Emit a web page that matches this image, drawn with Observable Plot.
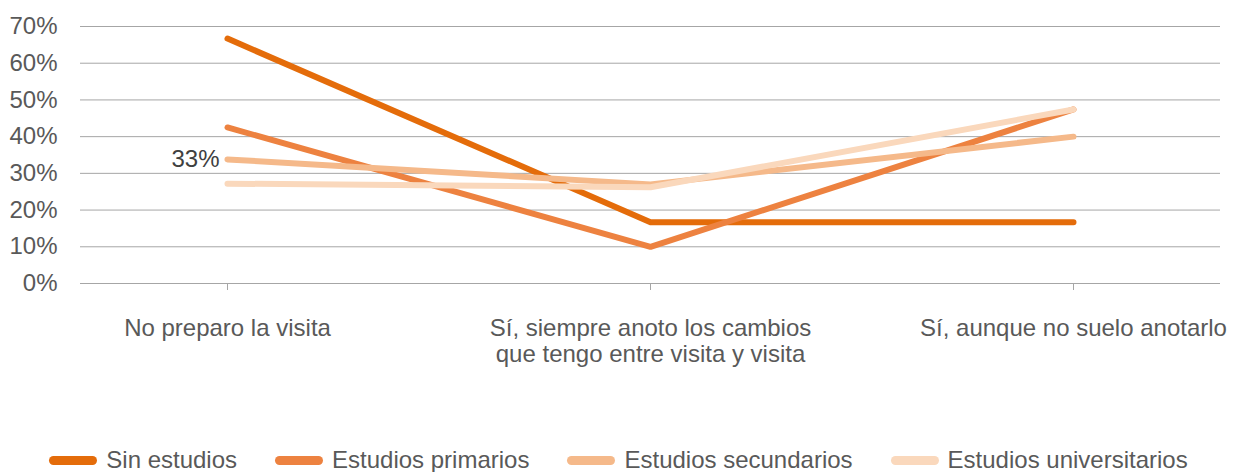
<!DOCTYPE html>
<html>
<head>
<meta charset="utf-8">
<script src="https://cdn.jsdelivr.net/npm/d3@7"></script>
<script src="https://cdn.jsdelivr.net/npm/@observablehq/plot@0.6"></script>
<style>
  html, body { margin: 0; padding: 0; background: #fff; }
  body { width: 1237px; height: 472px; overflow: hidden; font-family: "Liberation Sans", Arial, sans-serif; }
  #chart svg { display: block; }
  #legend { display: flex; justify-content: center; align-items: center; gap: 38px; margin-top: 66px; font-size: 24px; line-height: 28px; color: #595959; }
  .item { display: flex; align-items: center; gap: 9px; }
  .sw { width: 48px; height: 9px; border-radius: 4.5px; display: inline-block; }
</style>
</head>
<body>
<div id="chart"></div>
<div id="legend"></div>
<script>
const categories = ["No preparo la visita", "Sí, siempre anoto los cambios\nque tengo entre visita y visita", "Sí, aunque no suelo anotarlo"];
const seriesNames = ["Sin estudios", "Estudios primarios", "Estudios secundarios", "Estudios universitarios"];
const colors = ["#E46C0A", "#ED8240", "#F5B98A", "#FAD8BC"];
const sinEstudios = [0.667, 0.167, 0.167];
const primarios = [0.425, 0.10, 0.474];
const secundarios = [0.338, 0.270, 0.400];
const universitarios = [0.272, 0.262, 0.474];
const yTicks = [0, 0.1, 0.2, 0.3, 0.4, 0.5, 0.6, 0.7];
const annotation = {category: categories[0], value: 0.338, text: "33%"};

const allSeries = [sinEstudios, primarios, secundarios, universitarios];
const rows = allSeries.flatMap((vals, i) => vals.map((v, j) => ({series: seriesNames[i], category: categories[j], value: v})));

const chart = Plot.plot({
  width: 1237,
  height: 380,
  marginLeft: 80,
  marginRight: 17,
  marginTop: 26,
  marginBottom: 97,
  style: {fontFamily: "'Liberation Sans', Arial, sans-serif", fontSize: "24px", color: "#595959", background: "#fff"},
  x: {type: "point", domain: categories, padding: 0.346},
  y: {domain: [0, 0.7]},
  color: {domain: seriesNames, range: colors},
  marks: [
    Plot.ruleY(yTicks, {stroke: "#a6a6a6", strokeWidth: 1}),
    Plot.axisY({ticks: yTicks, tickFormat: d => Math.round(d * 100) + "%", tickSize: 0, tickPadding: 23, fontSize: 24, fill: "#595959", label: null}),
    Plot.axisX({tickSize: 7, stroke: "#a6a6a6", tickPadding: 26, fontSize: 24, fill: "#595959", lineHeight: 1.12, label: null}),
    Plot.line(rows, {x: "category", y: "value", z: "series", stroke: "series", strokeWidth: 6, strokeLinecap: "round", strokeLinejoin: "round"}),
    Plot.text([annotation], {x: "category", y: "value", text: "text", dx: -8, textAnchor: "end", fontSize: 24, fill: "#404040"})
  ]
});
document.getElementById("chart").appendChild(chart);

const legend = document.getElementById("legend");
seriesNames.forEach((name, i) => {
  const item = document.createElement("div");
  item.className = "item";
  const sw = document.createElement("span");
  sw.className = "sw";
  sw.style.background = colors[i];
  const t = document.createElement("span");
  t.textContent = name;
  item.appendChild(sw);
  item.appendChild(t);
  legend.appendChild(item);
});
</script>
</body>
</html>
